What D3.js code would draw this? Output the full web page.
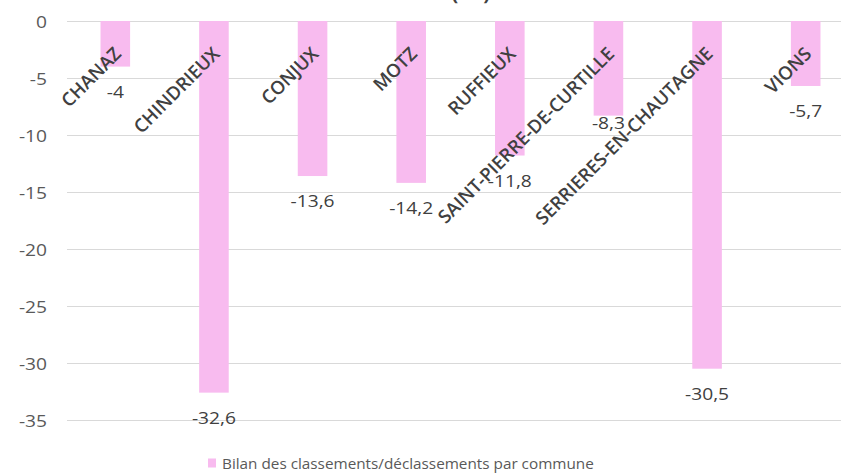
<!DOCTYPE html>
<html>
<head>
<meta charset="utf-8">
<script src="https://cdn.jsdelivr.net/npm/d3@7"></script>
<style>
  html, body { margin: 0; padding: 0; background: #ffffff; }
  svg { display: block; }
</style>
</head>
<body>
<script>
// Communes and net balance of classified / declassified land (ha)
const communes = ["CHANAZ", "CHINDRIEUX", "CONJUX", "MOTZ", "RUFFIEUX",
  "SAINT-PIERRE-DE-CURTILLE", "SERRIERES-EN-CHAUTAGNE", "VIONS"];
const bilan = [-4, -32.6, -13.6, -14.2, -11.8, -8.3, -30.5, -5.7];
const yTicks = [0, -5, -10, -15, -20, -25, -30, -35];
const seriesName = "Bilan des classements/déclassements par commune";
const titleText = "à la commune (ha)";

const W = 841, H = 475;
const FONT = "'Open Sans', 'DejaVu Sans', sans-serif";
const STRETCH = 1.2; // horizontal widening of the plain text labels

const svg = d3.select("body").append("svg")
  .attr("width", W).attr("height", H)
  .attr("viewBox", `0 0 ${W} ${H}`);

const x = d3.scaleBand()
  .domain(communes)
  .range([66, 855])
  .paddingInner(0.7)
  .paddingOuter(0.35);

const y = d3.scaleLinear()
  .domain([-35, 0])
  .range([420, 21]);

const fr = d3.format(".1~f");
const frLabel = v => fr(v).replace(".", ",").replace("−", "-");

// Title (runs off the top edge of the frame)
svg.append("text")
  .attr("transform", `translate(398,0) scale(1.05,1)`)
  .attr("text-anchor", "middle")
  .attr("font-family", FONT)
  .attr("font-weight", 700)
  .attr("font-size", 19)
  .attr("fill", "#404040")
  .text(titleText);

// Horizontal gridlines
const yAxis = d3.axisLeft(y).tickValues(yTicks).tickSize(0).tickPadding(0);
const gAxis = svg.append("g").attr("class", "y-axis");
gAxis.append("g")
  .selectAll("line")
  .data(yTicks)
  .join("line")
  .attr("x1", 67).attr("x2", W)
  .attr("y1", d => Math.round(y(d)) + 0.5)
  .attr("y2", d => Math.round(y(d)) + 0.5)
  .attr("stroke", "#d9d9d9")
  .attr("stroke-width", 1.2);

// Tick labels via the axis generator, then restyled
const gTicks = gAxis.append("g").attr("transform", "translate(47,0)").call(yAxis);
gTicks.select(".domain").remove();
gTicks.selectAll(".tick text")
  .attr("x", null).attr("dy", null)
  .attr("dominant-baseline", "central")
  .attr("text-anchor", "end")
  .attr("transform", `scale(${STRETCH},1)`)
  .attr("font-family", FONT)
  .attr("font-size", 16)
  .attr("fill", "#595959")
  .text(d => d3.format("d")(d).replace("−", "-"));

// Bars
svg.append("g")
  .selectAll("rect")
  .data(communes.map((c, i) => ({ c, v: bilan[i] })))
  .join("rect")
  .attr("x", d => x(d.c))
  .attr("width", x.bandwidth())
  .attr("y", d => y(Math.max(0, d.v)))
  .attr("height", d => Math.abs(y(d.v) - y(0)))
  .attr("fill", "#f8bbef");

// Category labels, rotated, anchored under the zero line
svg.append("g")
  .selectAll("text")
  .data(communes)
  .join("text")
  .attr("transform", d => `translate(${x(d) + x.bandwidth() / 2 + 7},55) rotate(-45)`)
  .attr("text-anchor", "end")
  .attr("font-family", FONT)
  .attr("font-weight", 600)
  .attr("font-size", 18.5)
  .attr("fill", "#404040")
  .text(d => d);

// Value labels below the bar ends
const labelNudge = { "SAINT-PIERRE-DE-CURTILLE": -18 };
svg.append("g")
  .selectAll("text")
  .data(communes.map((c, i) => ({ c, v: bilan[i] })))
  .join("text")
  .attr("transform", d =>
    `translate(${x(d.c) + x.bandwidth() / 2},${y(d.v) + 25 + (labelNudge[d.c] || 0)}) scale(${STRETCH},1)`)
  .attr("text-anchor", "middle")
  .attr("dominant-baseline", "central")
  .attr("font-family", FONT)
  .attr("font-size", 16)
  .attr("fill", "#404040")
  .text(d => frLabel(d.v));

// Legend
const legend = svg.append("g").attr("transform", "translate(208,463)");
legend.append("rect")
  .attr("x", 0).attr("y", -4.5)
  .attr("width", 8).attr("height", 9)
  .attr("fill", "#f8bbef");
legend.append("text")
  .attr("transform", `translate(14,0) scale(1.02,1)`)
  .attr("dominant-baseline", "central")
  .attr("font-family", FONT)
  .attr("font-size", 15)
  .attr("fill", "#595959")
  .text(seriesName);
</script>
</body>
</html>
